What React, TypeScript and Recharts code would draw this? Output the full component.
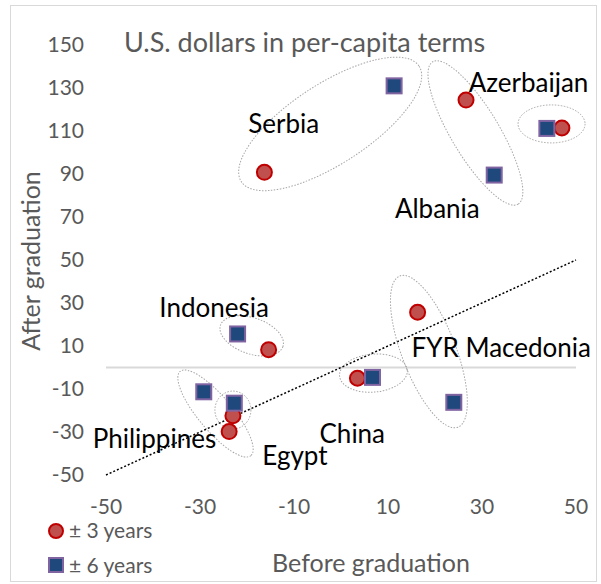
import React from 'react';
import {
  ScatterChart,
  Scatter,
  XAxis,
  YAxis,
  ReferenceLine,
  ReferenceDot,
  Customized,
} from 'recharts';

// ---------- data ----------
const countries = ['Serbia', 'Azerbaijan', 'Albania', 'Indonesia', 'Egypt', 'Philippines', 'China', 'FYR Macedonia'];
const before3 = [-16.3, 47, 26.6, -15.4, -23, -23.8, 3.5, 16.3];
const after3 = [90.8, 111.4, 124.4, 8.3, -22.4, -29.8, -5, 25.7];
const before6 = [11.3, 43.8, 32.6, -22, -22.7, -29.2, 6.7, 24];
const after6 = [131, 111.2, 89.5, 15.6, -16.6, -11.3, -4.6, -16.2];

const xTicks = [-50, -30, -10, 10, 30, 50];
const yTicks = [-50, -30, -10, 10, 30, 50, 70, 90, 110, 130, 150];

// label anchor points (data units): center x, baseline y
const labelX = [-12.2, 39.9, 20.5, -27, -9.8, -39.7, 2.4, 34.1];
const labelY = [109, 128, 69.5, 23.5, -45.3, -37.4, -35, 5];

// group ellipses: centers in data units
const ellipseCx = [-2.3, 44.8, 28.6, -19, -23, -26.7, 6.9, 18.7];
const ellipseCy = [113.3, 113.3, 109.1, 14.7, -19.8, -21.4, -2.6, 7.4];

const trendStart = { x: -50, y: -50 };
const trendEnd = { x: 50, y: 50 };

const series3 = countries.map((c, i) => ({ name: c, x: before3[i], y: after3[i] }));
const series6 = countries.map((c, i) => ({ name: c, x: before6[i], y: after6[i] }));

// ---------- styles ----------
const FONT = 'Lato, "Open Sans", sans-serif';
const GRAY_TEXT = '#595959';
const ellipseStyle = [
  { rx: 106, ry: 40, angle: -33 },
  { rx: 33.5, ry: 19, angle: 0 },
  { rx: 83, ry: 24, angle: 59 },
  { rx: 33, ry: 18, angle: 19 },
  { rx: 18, ry: 19, angle: 0 },
  { rx: 55, ry: 17, angle: 50 },
  { rx: 34, ry: 19, angle: -5 },
  { rx: 81, ry: 27, angle: 69 },
];

const RedCircle = (props: any) => {
  const { cx, cy } = props;
  if (cx == null || cy == null) return null;
  return <circle cx={cx} cy={cy} r={7.5} fill="#C0504D" stroke="#C00000" strokeWidth={2} />;
};

const BlueSquare = (props: any) => {
  const { cx, cy } = props;
  if (cx == null || cy == null) return null;
  return <rect x={cx - 7.5} y={cy - 7.5} width={15} height={15} fill="#1F497D" stroke="#8064A2" strokeWidth={2} />;
};

const Overlay = () => (
  <g>
    <text x={124} y={52} fontFamily={FONT} fontSize={27} fill={GRAY_TEXT}>
      U.S. dollars in per-capita terms
    </text>
    <text
      x={0}
      y={0}
      transform="translate(40 261) rotate(-90)"
      textAnchor="middle"
      fontFamily={FONT}
      fontSize={25}
      fill={GRAY_TEXT}
    >
      After graduation
    </text>
    <text x={371} y={572} textAnchor="middle" fontFamily={FONT} fontSize={25} fill={GRAY_TEXT}>
      Before graduation
    </text>
    <circle cx={56} cy={531} r={7} fill="#C0504D" stroke="#C00000" strokeWidth={2} />
    <text x={69} y={538} fontFamily={FONT} fontSize={21} fill={GRAY_TEXT}>
      ± 3 years
    </text>
    <rect x={49} y={558} width={14} height={14} fill="#1F497D" stroke="#8064A2" strokeWidth={2} />
    <text x={69} y={573} fontFamily={FONT} fontSize={21} fill={GRAY_TEXT}>
      ± 6 years
    </text>
  </g>
);

export default function App() {
  return (
    <div style={{ position: 'absolute', left: 0, top: 0, width: 601, height: 584, background: '#fff' }}>
      <div
        style={{
          position: 'absolute',
          left: 10,
          top: 5,
          width: 587,
          height: 577,
          border: '1px solid #d9d9d9',
          boxSizing: 'border-box',
        }}
      />
      <div style={{ position: 'absolute', left: 0, top: 0 }}>
        <ScatterChart width={601} height={584} margin={{ top: 45, right: 25, bottom: 79, left: 46 }}>
          <XAxis
            type="number"
            dataKey="x"
            domain={[-50, 50]}
            ticks={xTicks}
            axisLine={false}
            tickLine={false}
            tickSize={0}
            tickMargin={24}
            height={30}
            interval={0}
            tick={{ fill: GRAY_TEXT, fontSize: 21, fontFamily: FONT }}
            allowDataOverflow
          />
          <YAxis
            type="number"
            dataKey="y"
            domain={[-50, 150]}
            ticks={yTicks}
            axisLine={false}
            tickLine={false}
            tickSize={0}
            tickMargin={22}
            width={60}
            interval={0}
            tick={{ fill: GRAY_TEXT, fontSize: 21, fontFamily: FONT }}
            allowDataOverflow
          />
          <ReferenceLine y={0} stroke="#d9d9d9" strokeWidth={2} />
          <ReferenceLine
            segment={[trendStart, trendEnd]}
            stroke="#000"
            strokeWidth={1.5}
            strokeDasharray="2 2"
            ifOverflow="visible"
          />
          {countries.map((c, i) => (
            <ReferenceDot
              key={'e' + c}
              x={ellipseCx[i]}
              y={ellipseCy[i]}
              r={0}
              ifOverflow="visible"
              shape={(p: any) => (
                <ellipse
                  cx={p.cx}
                  cy={p.cy}
                  rx={ellipseStyle[i].rx}
                  ry={ellipseStyle[i].ry}
                  transform={`rotate(${ellipseStyle[i].angle} ${p.cx} ${p.cy})`}
                  fill="none"
                  stroke="#a6a6a6"
                  strokeWidth={1}
                  strokeDasharray="1.5 1.5"
                />
              )}
            />
          ))}
          <Scatter data={series3} isAnimationActive={false} shape={RedCircle} />
          <Scatter data={series6} isAnimationActive={false} shape={BlueSquare} />
          {countries.map((c, i) => (
            <ReferenceDot
              key={'l' + c}
              x={labelX[i]}
              y={labelY[i]}
              r={0}
              ifOverflow="visible"
              shape={(p: any) => (
                <text x={p.cx} y={p.cy} textAnchor="middle" fontFamily={FONT} fontSize={26} fill="#000">
                  {c}
                </text>
              )}
            />
          ))}
          <Customized component={Overlay} />
        </ScatterChart>
      </div>
    </div>
  );
}
